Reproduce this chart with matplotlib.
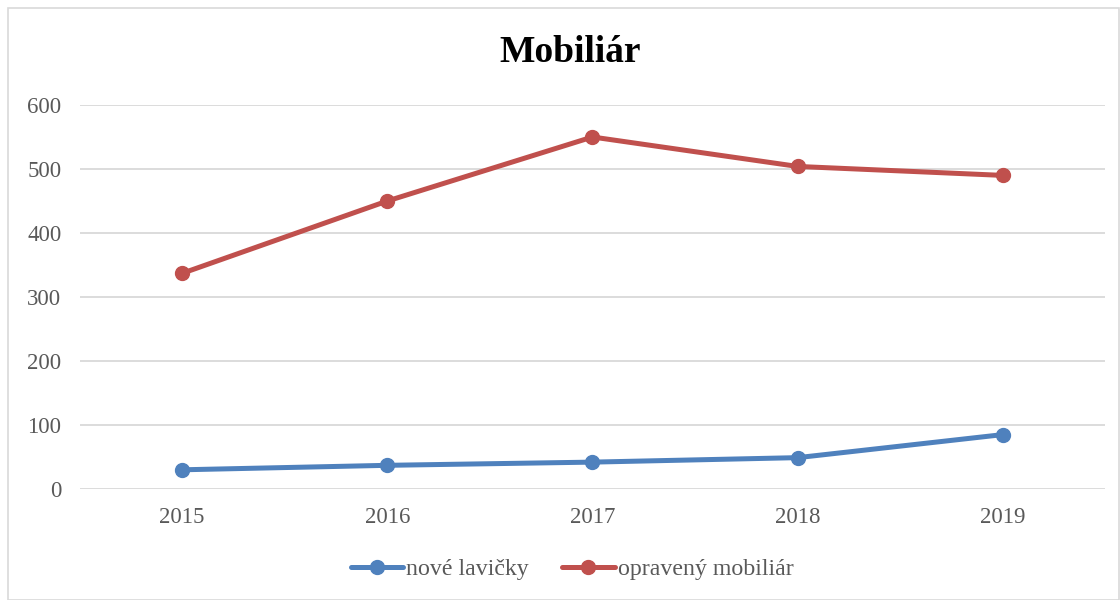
import matplotlib.pyplot as plt
from matplotlib.patches import Rectangle

years = ["2015", "2016", "2017", "2018", "2019"]
nove_lavicky = [30, 37, 42, 49, 85]
opraveny_mobiliar = [337, 450, 550, 504, 490]
y_ticks = [0, 100, 200, 300, 400, 500, 600]

plt.rcParams["font.family"] = ["Liberation Serif", "DejaVu Serif"]

fig = plt.figure(figsize=(11.2, 6), dpi=100)
ax = fig.add_axes([0.071, 0.185, 0.916, 0.64])

# rámeček grafu
fig.patches.append(Rectangle((8 / 1120, 0), 1 - 8 / 1120 - 0.0005, 1 - 8 / 600,
                             transform=fig.transFigure, fill=False,
                             edgecolor="#d9d9d9", linewidth=1.2))

x = list(range(len(years)))
ax.plot(x, nove_lavicky, color="#4f81bd", linewidth=3.6, marker="o",
        markersize=10, label="nové lavičky", solid_capstyle="round")
ax.plot(x, opraveny_mobiliar, color="#c0504d", linewidth=3.6, marker="o",
        markersize=10, label="opravený mobiliár", solid_capstyle="round")

ax.set_xlim(-0.5, len(years) - 0.5)
ax.set_ylim(0, 600)
ax.set_yticks(y_ticks)
ax.set_xticks(x)
ax.set_xticklabels(years)
ax.grid(axis="y", color="#d9d9d9", linewidth=1.3)
ax.set_axisbelow(True)
for s in ax.spines.values():
    s.set_visible(False)
ax.tick_params(length=0, labelsize=16.5, colors="#595959")
ax.tick_params(axis="y", pad=13)
ax.tick_params(axis="x", pad=13)

fig.text(0.509, 0.913, "Mobiliár", fontsize=27, fontweight="bold",
         ha="center", va="center")

ax.legend(loc="upper center", bbox_to_anchor=(0.48, -0.125), ncol=2, frameon=False,
          fontsize=17.2, labelcolor="#595959", handlelength=2.2, handletextpad=0.12,
          columnspacing=1.4)

plt.savefig("out.png", dpi=100)
